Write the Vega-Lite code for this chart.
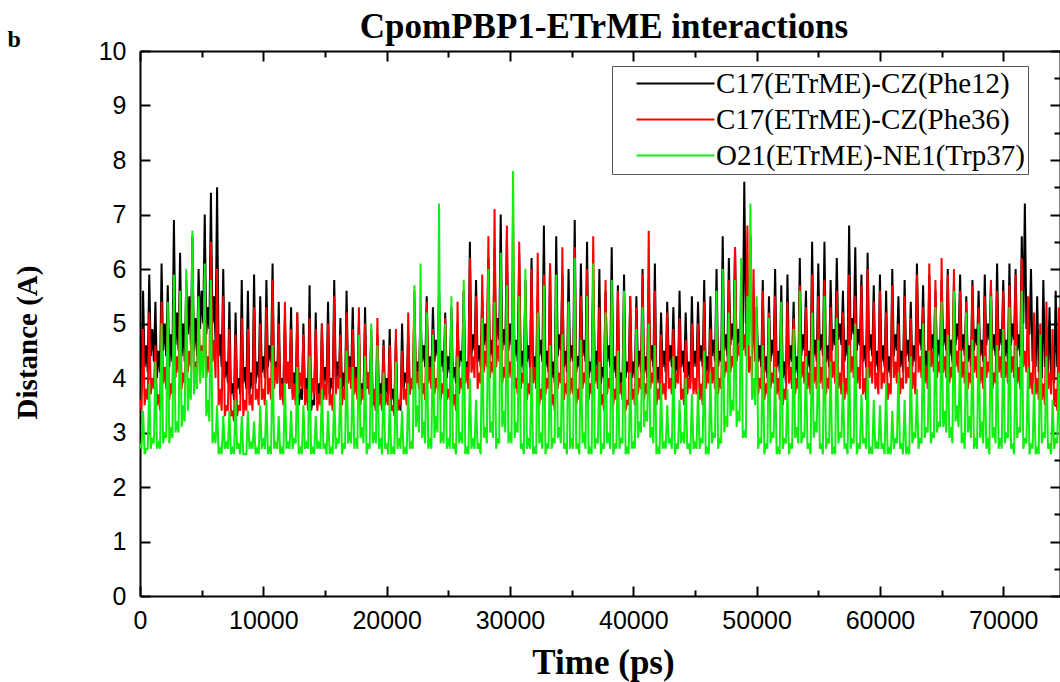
{
  "$schema": "https://vega.github.io/schema/vega-lite/v6.json",
  "width": 920,
  "height": 545,
  "autosize": {"type": "none"},
  "padding": {"left": 140, "top": 51, "right": 0, "bottom": 86},
  "background": "white",
  "title": {"text": "CpomPBP1-ETrME interactions", "font": "Liberation Serif", "fontSize": 35, "fontWeight": "bold", "color": "black", "anchor": "middle", "frame": "group", "offset": 8, "dx": 4, "dy": 25},
  "config": {
    "view": {"stroke": null},
    "axis": {"grid": false, "domainColor": "black", "domainWidth": 2, "tickColor": "black", "tickWidth": 2, "labelColor": "black", "titleColor": "black"}
  },
  "data": {"values": [
{"t":0,"a":4.3,"b":3.6,"c":2.8},{"t":250,"a":5.6,"b":4.9,"c":3.4},{"t":500,"a":4.6,"b":3.8,"c":2.7},{"t":750,"a":5.9,"b":5.2,"c":3.9},{"t":1000,"a":4.9,"b":4.0,"c":2.9},
{"t":1250,"a":5.4,"b":4.6,"c":4.3},{"t":1500,"a":4.5,"b":3.7,"c":2.8},{"t":1750,"a":6.1,"b":5.4,"c":5.0},{"t":2000,"a":5.0,"b":4.2,"c":3.0},{"t":2250,"a":5.7,"b":5.0,"c":5.4},
{"t":2500,"a":4.8,"b":3.9,"c":3.1},{"t":2750,"a":6.9,"b":5.3,"c":5.9},{"t":3000,"a":5.2,"b":4.4,"c":3.2},{"t":3250,"a":6.3,"b":5.6,"c":5.6},{"t":3500,"a":5.0,"b":4.1,"c":3.5},
{"t":3750,"a":5.8,"b":5.0,"c":6.0},{"t":4000,"a":5.5,"b":4.5,"c":4.0},{"t":4250,"a":6.6,"b":6.2,"c":6.7},{"t":4500,"a":5.1,"b":4.3,"c":4.2},{"t":4750,"a":6.0,"b":5.3,"c":5.5},
{"t":5000,"a":5.6,"b":4.6,"c":4.5},{"t":5250,"a":7.0,"b":5.9,"c":6.1},{"t":5500,"a":5.3,"b":4.4,"c":3.6},{"t":5750,"a":7.4,"b":6.5,"c":5.8},{"t":6000,"a":5.5,"b":4.7,"c":3.0},
{"t":6250,"a":7.5,"b":6.0,"c":3.5},{"t":6500,"a":4.8,"b":3.8,"c":2.7},{"t":6750,"a":6.0,"b":5.5,"c":3.3},{"t":7000,"a":4.3,"b":3.5,"c":2.8},{"t":7250,"a":5.4,"b":4.9,"c":3.4},
{"t":7500,"a":3.9,"b":3.4,"c":2.7},{"t":7750,"a":5.2,"b":4.8,"c":3.6},{"t":8000,"a":4.0,"b":3.5,"c":2.8},{"t":8250,"a":5.8,"b":5.1,"c":3.3},{"t":8500,"a":4.2,"b":3.6,"c":2.6},
{"t":8750,"a":5.6,"b":4.9,"c":3.4},{"t":9000,"a":4.1,"b":3.7,"c":2.8},{"t":9250,"a":5.9,"b":5.3,"c":3.2},{"t":9500,"a":4.3,"b":3.8,"c":2.7},{"t":9750,"a":5.5,"b":5.0,"c":3.5},
{"t":10000,"a":4.4,"b":3.8,"c":2.9},{"t":10250,"a":5.8,"b":5.3,"c":3.6},{"t":10500,"a":4.6,"b":4.0,"c":2.7},{"t":10750,"a":6.1,"b":5.8,"c":4.6},{"t":11000,"a":4.3,"b":4.2,"c":2.8},
{"t":11250,"a":5.4,"b":5.0,"c":3.3},{"t":11500,"a":4.0,"b":3.9,"c":2.7},{"t":11750,"a":5.1,"b":5.4,"c":3.9},{"t":12000,"a":4.2,"b":4.3,"c":2.8},{"t":12250,"a":5.3,"b":4.9,"c":3.4},
{"t":12500,"a":4.1,"b":3.9,"c":2.9},{"t":12750,"a":5.2,"b":5.2,"c":4.2},{"t":13000,"a":3.8,"b":4.1,"c":2.7},{"t":13250,"a":5.0,"b":4.8,"c":3.5},{"t":13500,"a":4.0,"b":3.8,"c":2.8},
{"t":13750,"a":5.7,"b":5.1,"c":4.4},{"t":14000,"a":3.6,"b":4.0,"c":2.7},{"t":14250,"a":5.2,"b":4.9,"c":3.3},{"t":14500,"a":3.9,"b":3.7,"c":2.8},{"t":14750,"a":5.0,"b":5.0,"c":3.8},
{"t":15000,"a":4.2,"b":3.9,"c":2.8},{"t":15250,"a":5.4,"b":5.0,"c":3.4},{"t":15500,"a":4.0,"b":3.7,"c":2.7},{"t":15750,"a":5.8,"b":5.5,"c":3.7},{"t":16000,"a":4.3,"b":4.0,"c":2.9},
{"t":16250,"a":5.1,"b":4.8,"c":4.0},{"t":16500,"a":4.1,"b":3.8,"c":2.8},{"t":16750,"a":5.6,"b":5.2,"c":4.5},{"t":17000,"a":4.4,"b":4.2,"c":3.0},{"t":17250,"a":5.3,"b":4.9,"c":4.2},
{"t":17500,"a":4.2,"b":4.0,"c":2.9},{"t":17750,"a":5.0,"b":5.3,"c":4.8},{"t":18000,"a":3.9,"b":3.8,"c":3.1},{"t":18250,"a":5.3,"b":5.0,"c":4.4},{"t":18500,"a":4.1,"b":4.1,"c":2.8},
{"t":18750,"a":4.9,"b":4.7,"c":5.0},{"t":19000,"a":3.7,"b":3.8,"c":3.0},{"t":19250,"a":4.8,"b":5.1,"c":4.6},{"t":19500,"a":3.9,"b":3.7,"c":2.9},{"t":19750,"a":4.7,"b":4.6,"c":4.1},
{"t":20000,"a":4.0,"b":3.7,"c":2.8},{"t":20250,"a":4.9,"b":4.6,"c":3.6},{"t":20500,"a":3.8,"b":3.5,"c":2.7},{"t":20750,"a":4.7,"b":4.9,"c":4.3},{"t":21000,"a":3.6,"b":3.6,"c":2.9},
{"t":21250,"a":5.0,"b":4.5,"c":3.4},{"t":21500,"a":4.1,"b":3.8,"c":2.7},{"t":21750,"a":4.8,"b":5.2,"c":3.9},{"t":22000,"a":4.0,"b":4.0,"c":2.8},{"t":22250,"a":5.4,"b":5.6,"c":5.7},
{"t":22500,"a":4.3,"b":4.1,"c":3.5},{"t":22750,"a":5.2,"b":5.0,"c":6.1},{"t":23000,"a":4.6,"b":3.9,"c":3.2},{"t":23250,"a":5.5,"b":5.4,"c":5.2},{"t":23500,"a":4.4,"b":4.2,"c":2.9},
{"t":23750,"a":5.3,"b":4.9,"c":4.8},{"t":24000,"a":4.7,"b":4.0,"c":3.3},{"t":24250,"a":5.6,"b":5.3,"c":7.2},{"t":24500,"a":4.5,"b":3.9,"c":3.0},{"t":24750,"a":5.2,"b":5.1,"c":5.0},
{"t":25000,"a":4.4,"b":3.8,"c":2.9},{"t":25250,"a":5.3,"b":4.9,"c":5.5},{"t":25500,"a":4.2,"b":3.7,"c":2.8},{"t":25750,"a":5.0,"b":5.4,"c":4.4},{"t":26000,"a":4.5,"b":4.0,"c":3.0},
{"t":26250,"a":5.6,"b":5.6,"c":5.8},{"t":26500,"a":4.3,"b":4.2,"c":2.7},{"t":26750,"a":6.5,"b":6.2,"c":4.0},{"t":27000,"a":4.8,"b":4.4,"c":2.9},{"t":27250,"a":5.8,"b":5.5,"c":3.6},
{"t":27500,"a":4.6,"b":4.1,"c":2.8},{"t":27750,"a":5.5,"b":5.9,"c":5.1},{"t":28000,"a":5.0,"b":4.5,"c":3.1},{"t":28250,"a":6.2,"b":6.6,"c":6.0},{"t":28500,"a":4.7,"b":4.3,"c":3.2},
{"t":28750,"a":6.4,"b":7.1,"c":5.4},{"t":29000,"a":5.1,"b":4.6,"c":2.9},{"t":29250,"a":7.0,"b":6.0,"c":6.3},{"t":29500,"a":4.9,"b":4.2,"c":3.4},{"t":29750,"a":6.6,"b":6.8,"c":5.7},
{"t":30000,"a":5.0,"b":4.3,"c":3.0},{"t":30250,"a":6.0,"b":7.2,"c":7.8},{"t":30500,"a":4.7,"b":4.0,"c":3.2},{"t":30750,"a":6.3,"b":6.5,"c":5.5},{"t":31000,"a":4.5,"b":4.1,"c":2.8},
{"t":31250,"a":5.8,"b":5.7,"c":6.0},{"t":31500,"a":4.6,"b":3.9,"c":2.9},{"t":31750,"a":6.2,"b":6.0,"c":4.2},{"t":32000,"a":4.4,"b":4.2,"c":2.7},{"t":32250,"a":5.5,"b":6.3,"c":5.2},
{"t":32500,"a":4.7,"b":3.8,"c":3.0},{"t":32750,"a":6.8,"b":5.9,"c":5.7},{"t":33000,"a":4.5,"b":4.0,"c":2.8},{"t":33250,"a":6.1,"b":6.1,"c":4.6},{"t":33500,"a":4.3,"b":3.7,"c":2.9},
{"t":33750,"a":6.6,"b":5.5,"c":5.9},{"t":34000,"a":4.8,"b":4.1,"c":3.1},{"t":34250,"a":5.9,"b":6.4,"c":4.8},{"t":34500,"a":4.5,"b":3.9,"c":2.8},{"t":34750,"a":6.0,"b":5.4,"c":5.4},
{"t":35000,"a":4.6,"b":4.0,"c":2.9},{"t":35250,"a":6.9,"b":6.4,"c":6.2},{"t":35500,"a":4.4,"b":3.8,"c":2.8},{"t":35750,"a":6.1,"b":5.5,"c":4.7},{"t":36000,"a":4.7,"b":4.1,"c":3.0},
{"t":36250,"a":6.5,"b":6.0,"c":5.5},{"t":36500,"a":4.3,"b":3.9,"c":2.7},{"t":36750,"a":5.8,"b":6.6,"c":6.1},{"t":37000,"a":4.5,"b":4.2,"c":2.9},{"t":37250,"a":6.0,"b":5.3,"c":4.3},
{"t":37500,"a":4.2,"b":3.7,"c":2.8},{"t":37750,"a":5.6,"b":5.8,"c":5.2},{"t":38000,"a":4.6,"b":4.0,"c":3.0},{"t":38250,"a":6.4,"b":5.4,"c":5.8},{"t":38500,"a":4.4,"b":3.8,"c":2.8},
{"t":38750,"a":5.7,"b":5.6,"c":4.5},{"t":39000,"a":4.1,"b":3.9,"c":2.9},{"t":39250,"a":5.9,"b":5.2,"c":5.6},{"t":39500,"a":4.3,"b":3.6,"c":2.7},{"t":39750,"a":5.5,"b":5.5,"c":4.1},
{"t":40000,"a":4.3,"b":3.8,"c":2.8},{"t":40250,"a":5.5,"b":5.3,"c":4.9},{"t":40500,"a":4.5,"b":4.0,"c":3.2},{"t":40750,"a":6.0,"b":5.9,"c":5.3},{"t":41000,"a":4.4,"b":3.9,"c":3.4},
{"t":41250,"a":5.8,"b":6.7,"c":5.0},{"t":41500,"a":4.6,"b":4.1,"c":3.1},{"t":41750,"a":6.1,"b":5.6,"c":4.6},{"t":42000,"a":4.2,"b":3.8,"c":2.7},{"t":42250,"a":5.2,"b":4.8,"c":3.9},
{"t":42500,"a":4.5,"b":3.9,"c":2.8},{"t":42750,"a":5.4,"b":5.2,"c":3.5},{"t":43000,"a":4.6,"b":4.0,"c":2.9},{"t":43250,"a":5.3,"b":4.9,"c":4.4},{"t":43500,"a":4.4,"b":4.1,"c":2.8},
{"t":43750,"a":5.6,"b":5.1,"c":3.6},{"t":44000,"a":4.5,"b":3.8,"c":3.0},{"t":44250,"a":5.2,"b":4.7,"c":4.0},{"t":44500,"a":4.3,"b":4.0,"c":2.8},{"t":44750,"a":5.5,"b":5.0,"c":3.7},
{"t":45000,"a":4.5,"b":4.0,"c":2.8},{"t":45250,"a":5.4,"b":5.0,"c":3.8},{"t":45500,"a":4.6,"b":3.9,"c":2.9},{"t":45750,"a":5.8,"b":5.4,"c":4.5},{"t":46000,"a":4.4,"b":4.1,"c":2.7},
{"t":46250,"a":5.5,"b":4.9,"c":4.1},{"t":46500,"a":4.7,"b":4.2,"c":3.0},{"t":46750,"a":6.0,"b":5.6,"c":5.6},{"t":47000,"a":4.5,"b":4.0,"c":2.9},{"t":47250,"a":6.6,"b":5.3,"c":6.0},
{"t":47500,"a":4.8,"b":4.3,"c":3.3},{"t":47750,"a":6.2,"b":5.8,"c":5.2},{"t":48000,"a":5.0,"b":4.4,"c":3.6},{"t":48250,"a":6.4,"b":6.4,"c":5.8},{"t":48500,"a":4.9,"b":4.6,"c":3.4},
{"t":48750,"a":5.2,"b":5.9,"c":6.2},{"t":49000,"a":7.6,"b":4.8,"c":3.0},{"t":49250,"a":5.4,"b":6.8,"c":5.5},{"t":49500,"a":6.6,"b":4.4,"c":7.2},{"t":49750,"a":5.0,"b":6.0,"c":4.0},
{"t":50000,"a":5.3,"b":4.8,"c":5.5},{"t":50250,"a":4.6,"b":4.0,"c":2.9},{"t":50500,"a":5.8,"b":5.6,"c":4.6},{"t":50750,"a":4.4,"b":3.9,"c":2.8},{"t":51000,"a":5.5,"b":5.2,"c":5.1},
{"t":51250,"a":4.7,"b":4.1,"c":3.0},{"t":51500,"a":6.0,"b":5.5,"c":4.2},{"t":51750,"a":4.5,"b":4.0,"c":2.7},{"t":52000,"a":5.7,"b":5.0,"c":5.4},{"t":52250,"a":4.3,"b":3.8,"c":2.9},
{"t":52500,"a":5.9,"b":5.4,"c":3.8},{"t":52750,"a":4.6,"b":4.2,"c":2.8},{"t":53000,"a":5.4,"b":5.1,"c":4.9},{"t":53250,"a":4.4,"b":4.0,"c":3.1},{"t":53500,"a":6.2,"b":5.7,"c":5.6},
{"t":53750,"a":4.8,"b":4.3,"c":3.0},{"t":54000,"a":5.6,"b":5.3,"c":4.4},{"t":54250,"a":4.5,"b":4.1,"c":2.8},{"t":54500,"a":6.5,"b":5.9,"c":5.2},{"t":54750,"a":4.7,"b":4.2,"c":3.2},
{"t":55000,"a":6.1,"b":5.5,"c":4.7},{"t":55250,"a":4.8,"b":4.2,"c":2.8},{"t":55500,"a":6.5,"b":5.8,"c":5.5},{"t":55750,"a":4.6,"b":4.0,"c":2.9},{"t":56000,"a":5.8,"b":5.3,"c":4.3},
{"t":56250,"a":4.9,"b":4.3,"c":2.7},{"t":56500,"a":6.2,"b":5.6,"c":5.1},{"t":56750,"a":5.0,"b":4.1,"c":3.0},{"t":57000,"a":5.6,"b":5.2,"c":3.9},{"t":57250,"a":4.7,"b":4.0,"c":2.8},
{"t":57500,"a":6.8,"b":5.9,"c":4.6},{"t":57750,"a":5.1,"b":4.4,"c":2.9},{"t":58000,"a":6.4,"b":5.5,"c":5.0},{"t":58250,"a":4.9,"b":4.2,"c":2.8},{"t":58500,"a":5.9,"b":5.7,"c":3.7},
{"t":58750,"a":4.6,"b":4.0,"c":2.9},{"t":59000,"a":6.3,"b":6.0,"c":4.2},{"t":59250,"a":4.8,"b":4.3,"c":2.7},{"t":59500,"a":5.7,"b":5.4,"c":3.6},{"t":59750,"a":4.5,"b":4.1,"c":2.8},
{"t":60000,"a":5.9,"b":5.6,"c":3.5},{"t":60250,"a":4.6,"b":4.1,"c":2.8},{"t":60500,"a":5.6,"b":5.2,"c":3.9},{"t":60750,"a":4.4,"b":3.9,"c":2.7},{"t":61000,"a":6.0,"b":5.7,"c":3.4},
{"t":61250,"a":4.8,"b":4.3,"c":2.9},{"t":61500,"a":5.5,"b":5.0,"c":4.1},{"t":61750,"a":4.5,"b":4.0,"c":2.8},{"t":62000,"a":5.8,"b":5.5,"c":3.6},{"t":62250,"a":4.7,"b":4.2,"c":2.7},
{"t":62500,"a":5.4,"b":5.1,"c":4.4},{"t":62750,"a":4.6,"b":4.1,"c":3.0},{"t":63000,"a":6.1,"b":5.9,"c":3.8},{"t":63250,"a":4.9,"b":4.4,"c":2.9},{"t":63500,"a":5.7,"b":5.3,"c":5.0},
{"t":63750,"a":4.5,"b":4.2,"c":3.1},{"t":64000,"a":5.9,"b":6.1,"c":4.5},{"t":64250,"a":4.8,"b":4.5,"c":3.0},{"t":64500,"a":5.6,"b":5.8,"c":5.3},{"t":64750,"a":4.7,"b":4.3,"c":3.2},
{"t":65000,"a":5.8,"b":6.2,"c":5.4},{"t":65250,"a":4.9,"b":4.4,"c":3.4},{"t":65500,"a":6.0,"b":5.9,"c":4.8},{"t":65750,"a":4.7,"b":4.2,"c":3.1},{"t":66000,"a":5.7,"b":6.0,"c":5.6},
{"t":66250,"a":5.0,"b":4.5,"c":3.5},{"t":66500,"a":5.9,"b":5.6,"c":4.5},{"t":66750,"a":4.8,"b":4.3,"c":3.0},{"t":67000,"a":5.5,"b":5.4,"c":5.2},{"t":67250,"a":4.6,"b":4.1,"c":3.3},
{"t":67500,"a":5.8,"b":5.7,"c":4.7},{"t":67750,"a":4.9,"b":4.4,"c":2.9},{"t":68000,"a":5.6,"b":5.3,"c":5.0},{"t":68250,"a":4.7,"b":4.2,"c":3.2},{"t":68500,"a":5.9,"b":5.5,"c":4.4},
{"t":68750,"a":5.0,"b":4.3,"c":2.9},{"t":69000,"a":5.7,"b":5.8,"c":5.5},{"t":69250,"a":4.8,"b":4.1,"c":3.1},{"t":69500,"a":6.1,"b":5.6,"c":4.6},{"t":69750,"a":4.9,"b":4.4,"c":2.9},
{"t":70000,"a":5.8,"b":5.6,"c":4.9},{"t":70250,"a":4.7,"b":4.3,"c":3.0},{"t":70500,"a":6.1,"b":5.7,"c":5.3},{"t":70750,"a":5.0,"b":4.4,"c":2.8},{"t":71000,"a":6.0,"b":5.9,"c":4.6},
{"t":71250,"a":4.8,"b":4.2,"c":3.1},{"t":71500,"a":6.6,"b":6.2,"c":5.6},{"t":71750,"a":7.2,"b":4.5,"c":2.9},{"t":72000,"a":5.2,"b":5.5,"c":4.2},{"t":72250,"a":6.0,"b":4.1,"c":2.8},
{"t":72500,"a":4.6,"b":5.2,"c":3.9},{"t":72750,"a":5.5,"b":4.0,"c":2.7},{"t":73000,"a":4.4,"b":5.0,"c":4.8},{"t":73250,"a":5.8,"b":3.9,"c":3.0},{"t":73500,"a":4.5,"b":5.4,"c":4.4},
{"t":73750,"a":5.3,"b":4.1,"c":2.8},{"t":74000,"a":4.3,"b":4.9,"c":3.6},{"t":74250,"a":5.6,"b":3.8,"c":2.9},{"t":74500,"a":4.5,"b":5.3,"c":4.1},{"t":74750,"a":5.2,"b":4.0,"c":2.8},
{"t":125,"a":3.9,"b":3.4,"c":2.7},{"t":375,"a":4.2,"b":3.5,"c":2.6},{"t":625,"a":4.1,"b":3.6,"c":2.7},{"t":875,"a":4.4,"b":3.7,"c":2.7},{"t":1125,"a":4.3,"b":3.8,"c":2.8},
{"t":1375,"a":4.0,"b":3.5,"c":2.7},{"t":1625,"a":4.1,"b":3.4,"c":2.7},{"t":1875,"a":4.5,"b":3.9,"c":2.8},{"t":2125,"a":4.4,"b":3.8,"c":2.9},{"t":2375,"a":4.2,"b":3.6,"c":2.8},
{"t":2625,"a":4.3,"b":3.7,"c":2.9},{"t":2875,"a":4.6,"b":4.0,"c":3.0},{"t":3125,"a":4.5,"b":4.1,"c":3.0},{"t":3375,"a":4.4,"b":3.8,"c":3.1},{"t":3625,"a":4.3,"b":3.9,"c":3.2},
{"t":3875,"a":4.8,"b":4.1,"c":3.4},{"t":4125,"a":4.6,"b":4.2,"c":3.6},{"t":4375,"a":4.5,"b":3.9,"c":3.7},{"t":4625,"a":4.4,"b":4.0,"c":3.8},{"t":4875,"a":4.9,"b":4.2,"c":3.9},
{"t":5125,"a":5.0,"b":4.2,"c":4.0},{"t":5375,"a":4.8,"b":4.0,"c":3.3},{"t":5625,"a":4.9,"b":4.1,"c":3.2},{"t":5875,"a":5.0,"b":4.3,"c":2.8},{"t":6125,"a":4.7,"b":4.0,"c":2.8},
{"t":6375,"a":4.4,"b":3.5,"c":2.6},{"t":6625,"a":4.2,"b":3.4,"c":2.6},{"t":6875,"a":4.0,"b":3.3,"c":2.7},{"t":7125,"a":3.9,"b":3.4,"c":2.7},{"t":7375,"a":3.7,"b":3.3,"c":2.6},
{"t":7625,"a":3.6,"b":3.2,"c":2.6},{"t":7875,"a":3.8,"b":3.3,"c":2.7},{"t":8125,"a":3.7,"b":3.4,"c":2.6},{"t":8375,"a":3.9,"b":3.3,"c":2.6},{"t":8625,"a":3.8,"b":3.4,"c":2.6},
{"t":8875,"a":3.7,"b":3.5,"c":2.7},{"t":9125,"a":3.8,"b":3.4,"c":2.7},{"t":9375,"a":3.9,"b":3.6,"c":2.6},{"t":9625,"a":4.0,"b":3.5,"c":2.6},{"t":9875,"a":4.1,"b":3.6,"c":2.7},
{"t":10125,"a":4.0,"b":3.5,"c":2.7},{"t":10375,"a":4.2,"b":3.7,"c":2.6},{"t":10625,"a":4.3,"b":3.6,"c":2.6},{"t":10875,"a":4.0,"b":3.8,"c":2.7},{"t":11125,"a":3.9,"b":3.9,"c":2.7},
{"t":11375,"a":3.7,"b":3.6,"c":2.6},{"t":11625,"a":3.8,"b":3.5,"c":2.6},{"t":11875,"a":3.9,"b":3.9,"c":2.7},{"t":12125,"a":3.8,"b":3.8,"c":2.7},{"t":12375,"a":3.7,"b":3.6,"c":2.7},
{"t":12625,"a":3.8,"b":3.5,"c":2.8},{"t":12875,"a":3.5,"b":3.7,"c":2.6},{"t":13125,"a":3.6,"b":3.8,"c":2.6},{"t":13375,"a":3.7,"b":3.5,"c":2.7},{"t":13625,"a":3.6,"b":3.4,"c":2.7},
{"t":13875,"a":3.4,"b":3.6,"c":2.6},{"t":14125,"a":3.5,"b":3.7,"c":2.6},{"t":14375,"a":3.6,"b":3.4,"c":2.7},{"t":14625,"a":3.7,"b":3.5,"c":2.7},{"t":14875,"a":3.9,"b":3.6,"c":2.7},
{"t":15125,"a":3.9,"b":3.6,"c":2.6},{"t":15375,"a":3.7,"b":3.5,"c":2.6},{"t":15625,"a":3.8,"b":3.4,"c":2.6},{"t":15875,"a":4.0,"b":3.7,"c":2.7},{"t":16125,"a":3.9,"b":3.8,"c":2.8},
{"t":16375,"a":3.8,"b":3.5,"c":2.6},{"t":16625,"a":3.7,"b":3.6,"c":2.7},{"t":16875,"a":4.0,"b":3.9,"c":2.8},{"t":17125,"a":4.1,"b":3.8,"c":2.8},{"t":17375,"a":3.9,"b":3.7,"c":2.7},
{"t":17625,"a":3.8,"b":3.6,"c":2.7},{"t":17875,"a":3.6,"b":3.5,"c":2.9},{"t":18125,"a":3.7,"b":3.6,"c":2.8},{"t":18375,"a":3.8,"b":3.8,"c":2.6},{"t":18625,"a":3.7,"b":3.7,"c":2.7},
{"t":18875,"a":3.5,"b":3.5,"c":2.8},{"t":19125,"a":3.4,"b":3.4,"c":2.8},{"t":19375,"a":3.6,"b":3.5,"c":2.7},{"t":19625,"a":3.7,"b":3.4,"c":2.6},{"t":19875,"a":3.6,"b":3.5,"c":2.7},
{"t":20125,"a":3.7,"b":3.5,"c":2.6},{"t":20375,"a":3.6,"b":3.4,"c":2.6},{"t":20625,"a":3.5,"b":3.3,"c":2.6},{"t":20875,"a":3.4,"b":3.4,"c":2.7},{"t":21125,"a":3.4,"b":3.5,"c":2.7},
{"t":21375,"a":3.8,"b":3.6,"c":2.6},{"t":21625,"a":3.9,"b":3.5,"c":2.6},{"t":21875,"a":3.7,"b":3.7,"c":2.7},{"t":22125,"a":3.8,"b":3.8,"c":2.7},{"t":22375,"a":4.0,"b":3.9,"c":3.1},
{"t":22625,"a":4.1,"b":3.8,"c":3.0},{"t":22875,"a":4.3,"b":3.7,"c":2.9},{"t":23125,"a":4.2,"b":3.6,"c":2.8},{"t":23375,"a":4.1,"b":3.9,"c":2.7},{"t":23625,"a":4.0,"b":3.8,"c":2.7},
{"t":23875,"a":4.3,"b":3.7,"c":2.9},{"t":24125,"a":4.4,"b":3.8,"c":3.0},{"t":24375,"a":4.2,"b":3.6,"c":2.8},{"t":24625,"a":4.1,"b":3.7,"c":2.8},{"t":24875,"a":4.0,"b":3.6,"c":2.7},
{"t":25125,"a":4.1,"b":3.6,"c":2.7},{"t":25375,"a":4.0,"b":3.5,"c":2.7},{"t":25625,"a":3.9,"b":3.4,"c":2.6},{"t":25875,"a":4.2,"b":3.7,"c":2.8},{"t":26125,"a":4.3,"b":3.8,"c":2.8},
{"t":26375,"a":4.0,"b":3.9,"c":2.6},{"t":26625,"a":4.1,"b":3.8,"c":2.6},{"t":26875,"a":4.4,"b":4.1,"c":2.7},{"t":27125,"a":4.5,"b":4.0,"c":2.7},{"t":27375,"a":4.3,"b":3.8,"c":2.7},
{"t":27625,"a":4.2,"b":3.9,"c":2.6},{"t":27875,"a":4.6,"b":4.1,"c":2.9},{"t":28125,"a":4.5,"b":4.2,"c":2.8},{"t":28375,"a":4.4,"b":4.0,"c":3.0},{"t":28625,"a":4.3,"b":4.1,"c":2.9},
{"t":28875,"a":4.6,"b":4.2,"c":2.7},{"t":29125,"a":4.7,"b":4.3,"c":2.8},{"t":29375,"a":4.5,"b":3.9,"c":3.1},{"t":29625,"a":4.6,"b":4.0,"c":3.0},{"t":29875,"a":4.5,"b":4.0,"c":2.8},
{"t":30125,"a":4.6,"b":4.0,"c":2.8},{"t":30375,"a":4.4,"b":3.8,"c":2.9},{"t":30625,"a":4.3,"b":3.7,"c":3.0},{"t":30875,"a":4.2,"b":3.8,"c":2.7},{"t":31125,"a":4.1,"b":3.9,"c":2.6},
{"t":31375,"a":4.3,"b":3.6,"c":2.7},{"t":31625,"a":4.2,"b":3.7,"c":2.7},{"t":31875,"a":4.1,"b":3.9,"c":2.6},{"t":32125,"a":4.0,"b":3.8,"c":2.6},{"t":32375,"a":4.4,"b":3.5,"c":2.8},
{"t":32625,"a":4.3,"b":3.6,"c":2.7},{"t":32875,"a":4.2,"b":3.7,"c":2.6},{"t":33125,"a":4.1,"b":3.8,"c":2.7},{"t":33375,"a":4.0,"b":3.5,"c":2.7},{"t":33625,"a":3.9,"b":3.4,"c":2.8},
{"t":33875,"a":4.4,"b":3.8,"c":2.9},{"t":34125,"a":4.5,"b":3.9,"c":2.8},{"t":34375,"a":4.2,"b":3.6,"c":2.7},{"t":34625,"a":4.1,"b":3.7,"c":2.6},{"t":34875,"a":4.3,"b":3.7,"c":2.7},
{"t":35125,"a":4.3,"b":3.7,"c":2.7},{"t":35375,"a":4.1,"b":3.5,"c":2.7},{"t":35625,"a":4.2,"b":3.6,"c":2.6},{"t":35875,"a":4.4,"b":3.8,"c":2.8},{"t":36125,"a":4.3,"b":3.9,"c":2.7},
{"t":36375,"a":4.0,"b":3.6,"c":2.6},{"t":36625,"a":4.1,"b":3.7,"c":2.6},{"t":36875,"a":4.2,"b":3.9,"c":2.7},{"t":37125,"a":4.1,"b":3.8,"c":2.8},{"t":37375,"a":3.9,"b":3.5,"c":2.6},
{"t":37625,"a":4.0,"b":3.4,"c":2.7},{"t":37875,"a":4.3,"b":3.7,"c":2.8},{"t":38125,"a":4.2,"b":3.8,"c":2.7},{"t":38375,"a":4.1,"b":3.5,"c":2.6},{"t":38625,"a":4.0,"b":3.6,"c":2.7},
{"t":38875,"a":3.8,"b":3.7,"c":2.7},{"t":39125,"a":3.9,"b":3.6,"c":2.8},{"t":39375,"a":4.0,"b":3.4,"c":2.6},{"t":39625,"a":4.1,"b":3.5,"c":2.6},{"t":39875,"a":4.0,"b":3.6,"c":2.7},
{"t":40125,"a":4.0,"b":3.5,"c":2.7},{"t":40375,"a":4.2,"b":3.7,"c":2.9},{"t":40625,"a":4.1,"b":3.8,"c":3.0},{"t":40875,"a":4.1,"b":3.6,"c":3.1},{"t":41125,"a":4.0,"b":3.7,"c":3.2},
{"t":41375,"a":4.3,"b":3.8,"c":2.9},{"t":41625,"a":4.2,"b":3.9,"c":2.8},{"t":41875,"a":3.9,"b":3.5,"c":2.6},{"t":42125,"a":3.9,"b":3.6,"c":2.6},{"t":42375,"a":4.2,"b":3.7,"c":2.7},
{"t":42625,"a":4.1,"b":3.6,"c":2.7},{"t":42875,"a":4.3,"b":3.8,"c":2.8},{"t":43125,"a":4.2,"b":3.7,"c":2.7},{"t":43375,"a":4.1,"b":3.8,"c":2.6},{"t":43625,"a":4.0,"b":3.9,"c":2.7},
{"t":43875,"a":4.2,"b":3.6,"c":2.8},{"t":44125,"a":4.1,"b":3.5,"c":2.8},{"t":44375,"a":4.0,"b":3.7,"c":2.7},{"t":44625,"a":3.9,"b":3.8,"c":2.6},{"t":44875,"a":4.2,"b":3.7,"c":2.7},
{"t":45125,"a":4.2,"b":3.7,"c":2.7},{"t":45375,"a":4.3,"b":3.6,"c":2.7},{"t":45625,"a":4.2,"b":3.5,"c":2.8},{"t":45875,"a":4.1,"b":3.8,"c":2.6},{"t":46125,"a":4.0,"b":3.9,"c":2.6},
{"t":46375,"a":4.4,"b":3.9,"c":2.8},{"t":46625,"a":4.3,"b":3.8,"c":2.9},{"t":46875,"a":4.2,"b":3.7,"c":2.7},{"t":47125,"a":4.3,"b":3.8,"c":2.8},{"t":47375,"a":4.5,"b":4.0,"c":3.0},
{"t":47625,"a":4.4,"b":4.1,"c":3.1},{"t":47875,"a":4.6,"b":4.1,"c":3.3},{"t":48125,"a":4.7,"b":4.2,"c":3.4},{"t":48375,"a":4.5,"b":4.3,"c":3.1},{"t":48625,"a":4.6,"b":4.4,"c":3.2},
{"t":48875,"a":4.8,"b":4.5,"c":2.9},{"t":49125,"a":5.0,"b":4.4,"c":2.9},{"t":49375,"a":4.9,"b":4.1,"c":4.6},{"t":49625,"a":4.6,"b":4.0,"c":3.6},{"t":49875,"a":4.5,"b":4.3,"c":3.5},
{"t":50125,"a":4.3,"b":3.7,"c":2.7},{"t":50375,"a":4.2,"b":3.8,"c":2.8},{"t":50625,"a":4.1,"b":3.6,"c":2.6},{"t":50875,"a":4.0,"b":3.7,"c":2.7},{"t":51125,"a":4.3,"b":3.8,"c":2.8},
{"t":51375,"a":4.4,"b":3.9,"c":2.9},{"t":51625,"a":4.2,"b":3.7,"c":2.6},{"t":51875,"a":4.1,"b":3.6,"c":2.6},{"t":52125,"a":4.0,"b":3.5,"c":2.7},{"t":52375,"a":3.9,"b":3.6,"c":2.8},
{"t":52625,"a":4.2,"b":3.9,"c":2.6},{"t":52875,"a":4.3,"b":3.8,"c":2.7},{"t":53125,"a":4.1,"b":3.7,"c":2.9},{"t":53375,"a":4.0,"b":3.8,"c":2.8},{"t":53625,"a":4.4,"b":4.0,"c":2.8},
{"t":53875,"a":4.5,"b":3.9,"c":2.9},{"t":54125,"a":4.2,"b":3.8,"c":2.7},{"t":54375,"a":4.1,"b":3.7,"c":2.6},{"t":54625,"a":4.4,"b":3.9,"c":2.9},{"t":54875,"a":4.3,"b":3.8,"c":3.0},
{"t":55125,"a":4.5,"b":3.9,"c":2.7},{"t":55375,"a":4.4,"b":3.8,"c":2.6},{"t":55625,"a":4.3,"b":3.7,"c":2.7},{"t":55875,"a":4.2,"b":3.8,"c":2.8},{"t":56125,"a":4.5,"b":4.0,"c":2.6},
{"t":56375,"a":4.6,"b":3.9,"c":2.6},{"t":56625,"a":4.7,"b":3.8,"c":2.8},{"t":56875,"a":4.6,"b":3.7,"c":2.9},{"t":57125,"a":4.3,"b":3.6,"c":2.7},{"t":57375,"a":4.4,"b":3.7,"c":2.6},
{"t":57625,"a":4.7,"b":4.1,"c":2.7},{"t":57875,"a":4.8,"b":4.0,"c":2.8},{"t":58125,"a":4.5,"b":3.9,"c":2.6},{"t":58375,"a":4.6,"b":3.8,"c":2.7},{"t":58625,"a":4.3,"b":3.7,"c":2.8},
{"t":58875,"a":4.2,"b":3.6,"c":2.7},{"t":59125,"a":4.5,"b":4.0,"c":2.6},{"t":59375,"a":4.4,"b":3.9,"c":2.6},{"t":59625,"a":4.2,"b":3.8,"c":2.7},{"t":59875,"a":4.1,"b":3.7,"c":2.7},
{"t":60125,"a":4.3,"b":3.8,"c":2.7},{"t":60375,"a":4.2,"b":3.9,"c":2.6},{"t":60625,"a":4.1,"b":3.6,"c":2.6},{"t":60875,"a":4.0,"b":3.7,"c":2.6},{"t":61125,"a":4.4,"b":4.0,"c":2.7},
{"t":61375,"a":4.5,"b":3.9,"c":2.8},{"t":61625,"a":4.2,"b":3.7,"c":2.7},{"t":61875,"a":4.1,"b":3.8,"c":2.6},{"t":62125,"a":4.4,"b":3.9,"c":2.6},{"t":62375,"a":4.3,"b":4.0,"c":2.6},
{"t":62625,"a":4.2,"b":3.8,"c":2.8},{"t":62875,"a":4.3,"b":3.7,"c":2.9},{"t":63125,"a":4.6,"b":4.1,"c":2.7},{"t":63375,"a":4.5,"b":4.0,"c":2.8},{"t":63625,"a":4.2,"b":3.9,"c":2.9},
{"t":63875,"a":4.1,"b":3.8,"c":3.0},{"t":64125,"a":4.4,"b":4.2,"c":2.8},{"t":64375,"a":4.5,"b":4.1,"c":2.9},{"t":64625,"a":4.3,"b":4.0,"c":3.0},{"t":64875,"a":4.4,"b":4.1,"c":3.1},
{"t":65125,"a":4.6,"b":4.1,"c":3.1},{"t":65375,"a":4.5,"b":4.0,"c":3.0},{"t":65625,"a":4.4,"b":3.9,"c":2.9},{"t":65875,"a":4.3,"b":4.0,"c":2.8},{"t":66125,"a":4.6,"b":4.2,"c":3.2},
{"t":66375,"a":4.7,"b":4.1,"c":3.1},{"t":66625,"a":4.5,"b":4.0,"c":2.8},{"t":66875,"a":4.4,"b":3.9,"c":2.7},{"t":67125,"a":4.3,"b":3.8,"c":3.0},{"t":67375,"a":4.2,"b":3.9,"c":2.9},
{"t":67625,"a":4.5,"b":4.1,"c":2.7},{"t":67875,"a":4.6,"b":4.0,"c":2.7},{"t":68125,"a":4.4,"b":3.9,"c":2.9},{"t":68375,"a":4.3,"b":3.8,"c":2.8},{"t":68625,"a":4.6,"b":4.0,"c":2.7},
{"t":68875,"a":4.7,"b":4.1,"c":2.6},{"t":69125,"a":4.5,"b":3.8,"c":2.9},{"t":69375,"a":4.4,"b":3.9,"c":2.8},{"t":69625,"a":4.5,"b":4.1,"c":2.7},{"t":69875,"a":4.6,"b":4.0,"c":2.7},
{"t":70125,"a":4.4,"b":4.0,"c":2.8},{"t":70375,"a":4.3,"b":3.9,"c":2.9},{"t":70625,"a":4.6,"b":4.1,"c":2.7},{"t":70875,"a":4.7,"b":4.0,"c":2.6},{"t":71125,"a":4.5,"b":3.9,"c":2.9},
{"t":71375,"a":4.4,"b":3.8,"c":3.0},{"t":71625,"a":5.0,"b":4.2,"c":2.7},{"t":71875,"a":4.9,"b":4.1,"c":2.8},{"t":72125,"a":4.8,"b":3.8,"c":2.6},{"t":72375,"a":4.3,"b":3.7,"c":2.7},
{"t":72625,"a":4.2,"b":3.7,"c":2.6},{"t":72875,"a":4.1,"b":3.6,"c":2.6},{"t":73125,"a":4.0,"b":3.6,"c":2.8},{"t":73375,"a":4.2,"b":3.5,"c":2.9},{"t":73625,"a":4.1,"b":3.8,"c":2.7},
{"t":73875,"a":4.0,"b":3.7,"c":2.6},{"t":74125,"a":3.9,"b":3.5,"c":2.7},{"t":74375,"a":4.2,"b":3.4,"c":2.8},{"t":74625,"a":4.1,"b":3.7,"c":2.7},{"t":74875,"a":4.3,"b":3.6,"c":2.6}
  ]},
  "resolve": {"axis": {"x": "independent", "y": "independent"}},
  "layer": [
    {
      "mark": {"type": "line", "strokeWidth": 2, "clip": true},
      "encoding": {
        "x": {"field": "t", "type": "quantitative", "scale": {"domain": [0, 74600], "nice": false, "zero": false},
          "axis": {"orient": "bottom", "values": [0,5000,10000,15000,20000,25000,30000,35000,40000,45000,50000,55000,60000,65000,70000],
            "tickSize": {"condition": {"test": "datum.value % 10000 === 0", "value": -10}, "value": -6},
            "format": "d", "labelExpr": "datum.value % 10000 === 0 ? datum.label : ''",
            "labelFont": "Liberation Sans", "labelFontSize": 25, "labelPadding": 22, "labelFlush": false, "labelOverlap": false,
            "title": "Time (ps)", "titleFont": "Liberation Serif", "titleFontSize": 35, "titleFontWeight": "bold",
            "titleX": 463, "titleY": 66, "titleBaseline": "middle", "titleAlign": "center"}},
        "y": {"field": "a", "type": "quantitative", "scale": {"domain": [0, 10], "nice": false, "zero": false},
          "axis": {"orient": "left", "values": [0,0.5,1,1.5,2,2.5,3,3.5,4,4.5,5,5.5,6,6.5,7,7.5,8,8.5,9,9.5,10],
            "tickSize": {"condition": {"test": "datum.value % 1 === 0", "value": -10}, "value": -6},
            "format": "d", "labelExpr": "datum.value % 1 === 0 ? datum.label : ''",
            "labelFont": "Liberation Sans", "labelFontSize": 25, "labelPadding": 24, "labelOverlap": false, "labelFlush": false,
            "title": "Distance (A)", "titleFont": "Liberation Serif", "titleFontSize": 29, "titleFontWeight": "bold",
            "titleX": -113, "titleY": 291, "titleAngle": -90, "titleBaseline": "middle", "titleAlign": "center"}},
        "color": {"datum": "C17(ETrME)-CZ(Phe12)", "type": "nominal",
          "scale": {"domain": ["C17(ETrME)-CZ(Phe12)", "C17(ETrME)-CZ(Phe36)", "O21(ETrME)-NE1(Trp37)"], "range": ["#000000", "#ff0000", "#11ee11"]},
          "legend": {"title": null, "orient": "none", "legendX": 472, "legendY": 15, "fillColor": "white", "strokeColor": "#555555", "padding": 3,
            "symbolType": "M-4,0H4", "symbolSize": 380, "symbolStrokeWidth": 2, "symbolOffset": 46, "labelOffset": 26,
            "labelFont": "Liberation Serif", "labelFontSize": 29, "labelColor": "black", "labelLimit": 500, "rowPadding": 6}}
      }
    },
    {
      "mark": {"type": "line", "strokeWidth": 2, "clip": true},
      "encoding": {
        "x": {"field": "t", "type": "quantitative", "scale": {"domain": [0, 74600], "nice": false, "zero": false}, "axis": null},
        "y": {"field": "b", "type": "quantitative", "scale": {"domain": [0, 10], "nice": false, "zero": false}, "axis": null},
        "color": {"datum": "C17(ETrME)-CZ(Phe36)", "type": "nominal"}
      }
    },
    {
      "mark": {"type": "line", "strokeWidth": 2, "clip": true},
      "encoding": {
        "x": {"field": "t", "type": "quantitative", "scale": {"domain": [0, 74600], "nice": false, "zero": false},
          "axis": {"orient": "top", "values": [0,5000,10000,15000,20000,25000,30000,35000,40000,45000,50000,55000,60000,65000,70000],
            "tickSize": {"condition": {"test": "datum.value % 10000 === 0", "value": -10}, "value": -6},
            "labels": false, "title": null}},
        "y": {"field": "c", "type": "quantitative", "scale": {"domain": [0, 10], "nice": false, "zero": false},
          "axis": {"orient": "right", "values": [0,0.5,1,1.5,2,2.5,3,3.5,4,4.5,5,5.5,6,6.5,7,7.5,8,8.5,9,9.5,10],
            "tickSize": {"condition": {"test": "datum.value % 1 === 0", "value": -10}, "value": -6},
            "labels": false, "title": null}},
        "color": {"datum": "O21(ETrME)-NE1(Trp37)", "type": "nominal"}
      }
    },
    {
      "data": {"values": [{"label": "b"}]},
      "mark": {"type": "text", "font": "Liberation Serif", "fontSize": 24, "fontWeight": "bold", "color": "black", "align": "center", "baseline": "middle"},
      "encoding": {
        "x": {"datum": -10200, "type": "quantitative", "scale": {"domain": [0, 74600], "nice": false, "zero": false}, "axis": null},
        "y": {"datum": 10.2, "type": "quantitative", "scale": {"domain": [0, 10], "nice": false, "zero": false}, "axis": null},
        "text": {"field": "label", "type": "nominal"}
      }
    }
  ]
}
